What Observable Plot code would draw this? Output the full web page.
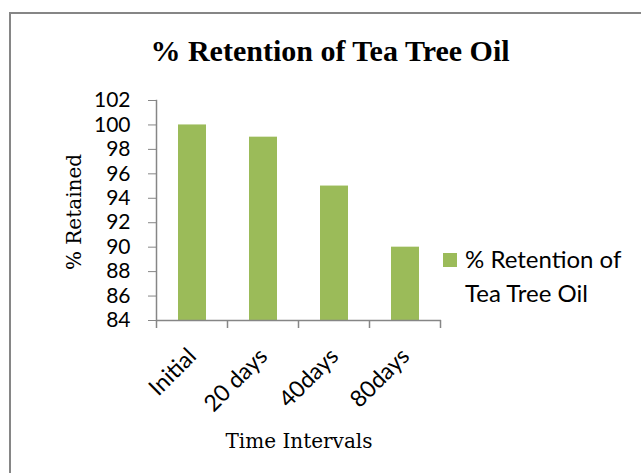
<!DOCTYPE html>
<html><head><meta charset="utf-8">
<script src="https://cdn.jsdelivr.net/npm/d3@7"></script>
<script src="https://cdn.jsdelivr.net/npm/@observablehq/plot@0.6"></script>
<style>body{margin:0;background:#fff} #chart{width:641px;height:473px;overflow:hidden}</style>
</head><body><div id="chart"></div>
<script>
const categories = ["Initial", "20 days", "40days", "80days"];
const retained = [100, 99, 95, 90];
const yTicks = [84, 86, 88, 90, 92, 94, 96, 98, 100, 102];
const yDomain = [84, 102];
const seriesName = ["% Retention of", "Tea Tree Oil"];
const titleText = "% Retention of Tea Tree Oil";
const yLabel = "% Retained";
const xLabel = "Time Intervals";

const data = categories.map((c, i) => ({time: c, value: retained[i]}));
const axisColor = "#868686";
const barColor = "#9BBB59";

const plot = Plot.plot({
  width: 641, height: 473,
  marginLeft: 156, marginRight: 200, marginTop: 100, marginBottom: 153,
  style: {fontFamily: "Lato", fontSize: "21px", color: "#000", background: "#fff", overflow: "visible"},
  x: {domain: categories, paddingInner: 0.607, paddingOuter: 0.3035, label: null},
  y: {domain: yDomain, label: null},
  marks: [
    Plot.barY(data, {x: "time", y1: yDomain[0], y2: "value", fill: barColor}),
    Plot.axisY({ticks: yTicks, tickSize: 8, tickPadding: 18, stroke: axisColor, label: null, fontSize: 21}),
    Plot.axisX({tickSize: 0, tickRotate: -45, tickPadding: 32, label: null, fontSize: 23}),
    Plot.ruleY([yDomain[0]], {stroke: axisColor, strokeWidth: 1.5}),
    Plot.frame({anchor: "left", stroke: axisColor, strokeWidth: 1.5})
  ]
});
document.getElementById("chart").append(plot);

const svg = d3.select(plot);
// x boundary ticks via the library's band scale
const xs = plot.scale("x");
const ys = plot.scale("y");
const step = xs.step, bw = xs.bandwidth;
const y0 = ys.apply(yDomain[0]);
const bounds = categories.map(c => xs.apply(c) - (step - bw) / 2);
bounds.push(bounds[bounds.length - 1] + step);
svg.append("g").selectAll("line").data(bounds).join("line")
  .attr("x1", d => d).attr("x2", d => d).attr("y1", y0).attr("y2", y0 + 8)
  .attr("stroke", axisColor).attr("stroke-width", 1.5);

// chart border
svg.append("path").attr("d", "M10,480V13H650").attr("fill", "none")
  .attr("stroke", axisColor).attr("stroke-width", 2);

// title
svg.append("text").attr("x", 330).attr("y", 61).attr("text-anchor", "middle")
  .attr("font-family", "Liberation Serif").attr("font-weight", "bold").attr("font-size", 30)
  .attr("fill", "#000").text(titleText);

// y label
svg.append("text").attr("transform", "translate(81,212) rotate(-90)").attr("text-anchor", "middle")
  .attr("font-family", "DejaVu Serif").attr("font-size", 20).attr("fill", "#000").text(yLabel);

// x label
svg.append("text").attr("x", 299).attr("y", 448).attr("text-anchor", "middle")
  .attr("font-family", "DejaVu Serif").attr("font-size", 20).attr("fill", "#000").text(xLabel);

// legend
svg.append("rect").attr("x", 443).attr("y", 253).attr("width", 14).attr("height", 14).attr("fill", barColor);
svg.append("text").attr("font-family", "Lato").attr("font-size", 24).attr("fill", "#000")
  .attr("text-anchor", "start")
  .selectAll("tspan").data(seriesName).join("tspan")
  .attr("x", 465).attr("y", (d, i) => 268 + i * 34).text(d => d);
</script>
</body></html>
